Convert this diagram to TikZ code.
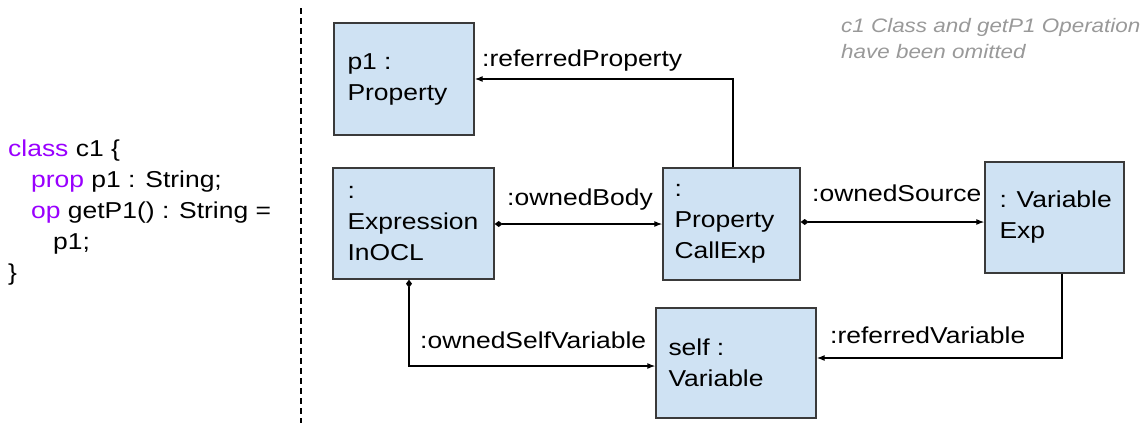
\documentclass[tikz,border=0pt]{standalone}
\usepackage{fontspec}
\setmainfont{Liberation Sans}[FakeStretch=1.15]
\usetikzlibrary{arrows.meta}
\definecolor{boxfill}{HTML}{CFE2F3}
\definecolor{boxline}{HTML}{3A3A3A}
\definecolor{kw}{HTML}{9900FF}
\definecolor{note}{HTML}{999999}
\tikzset{
  objbox/.style={draw=boxline, line width=1.4pt, fill=boxfill, inner sep=0pt},
  objtext/.style={anchor=west, align=left, inner sep=0pt, font=\fontsize{23}{31}\selectfont},
  lbl/.style={anchor=base west, inner sep=0pt, font=\fontsize{23}{31}\selectfont},
  conn/.style={line width=1.2pt, draw=black},
  refarr/.style={conn, -{Latex[length=8pt,width=6pt]}},
  comparr/.style={conn, {Diamond[length=8pt,width=6pt]}-{Latex[length=8pt,width=6pt]}},
}
\begin{document}
\begin{tikzpicture}[x=1pt,y=-1pt]
\useasboundingbox (0,0) rectangle (1147,423);

% divider
\draw[line width=1.5pt, dash pattern=on 6pt off 4pt] (301,8) -- (301,423);

% code (base anchor = baseline of last line)
\node[anchor=base west, align=left, inner sep=0pt, font=\fontsize{23}{31}\selectfont] (code) at (8,280)
  {\textcolor{kw}{class} c1 \{\\
   \hspace*{23pt}\textcolor{kw}{prop} p1 : String;\\
   \hspace*{23pt}\textcolor{kw}{op} getP1() : String =\\
   \hspace*{45pt}p1;\\
   \}};

% note
\node[anchor=base west, align=left, inner sep=0pt, text=note, font=\fontsize{19.5}{26}\selectfont\itshape] (note) at (841,58)
  {c1 Class and getP1 Operation\\have been omitted};

% boxes
\node[objbox, minimum width=140pt, minimum height=112pt] (p1) at (404,79) {};
\node[objtext] (p1t) at ([xshift=14pt]p1.west) {p1 :\\Property};

\node[objbox, minimum width=161pt, minimum height=111pt] (expr) at (413.5,223.5) {};
\node[objtext] (exprt) at ([xshift=15pt]expr.west) {:\\Expression\\InOCL};

\node[objbox, minimum width=137pt, minimum height=112pt] (pce) at (731.5,224) {};
\node[objtext] (pcet) at ([xshift=12pt]pce.west) {:\\Property\\CallExp};

\node[objbox, minimum width=139pt, minimum height=111pt] (vexp) at (1054.5,217.5) {};
\node[objtext] (vexpt) at ([xshift=15pt]vexp.west) {: Variable\\Exp};

\node[objbox, minimum width=160pt, minimum height=110pt] (self) at (736,363) {};
\node[objtext] (selft) at ([xshift=13pt]self.west) {self :\\Variable};

% connectors
\draw[refarr] ([xshift=1.5pt]pce.north) |- (p1.east);
\draw[comparr] (expr.east |- pce.west) -- (pce.west);
\draw[comparr] ([yshift=2pt]pce.east) -- ([yshift=2pt]pce.east -| vexp.west);
\draw[comparr] ([xshift=-4.5pt]expr.south) |- ([yshift=-3pt]self.west);
\draw[refarr] ([xshift=7.5pt]vexp.south) |- ([yshift=5pt]self.east);

% labels
\node[lbl] (l1) at (482,66) {:referredProperty};
\node[lbl] (l2) at (507,205) {:ownedBody};
\node[lbl] (l3) at (812,201) {:ownedSource};
\node[lbl] (l4) at (420,348) {:ownedSelfVariable};
\node[lbl] (l5) at (830,343) {:referredVariable};
\end{tikzpicture}
\end{document}
